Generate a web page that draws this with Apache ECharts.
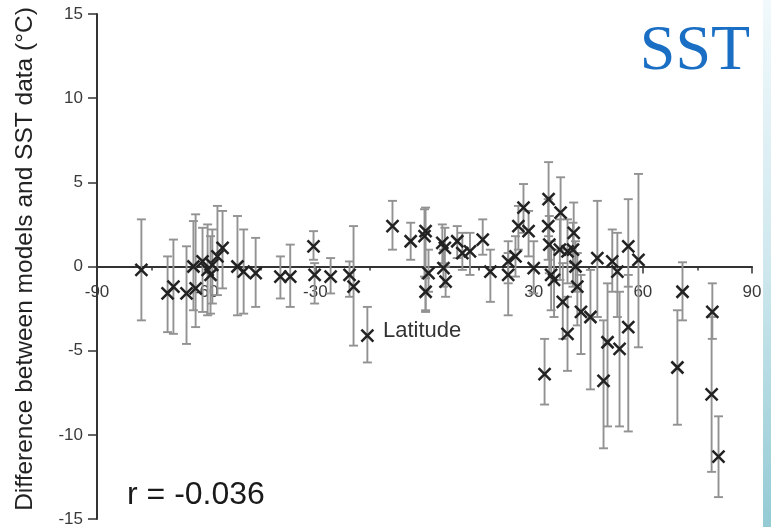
<!DOCTYPE html>
<html>
<head>
<meta charset="utf-8">
<script src="https://cdn.jsdelivr.net/npm/echarts@6/dist/echarts.min.js"></script>
<style>
html,body{margin:0;padding:0;background:#fff;}
#chart{width:771px;height:527px;}
</style>
</head>
<body>
<div id="chart"></div>
<script>
// Latitude (degrees) of each site
const latitude = [
  -77.8, -70.6, -69.0, -65.4, -62.9, -63.5, -61.0, -59.6, -58.3, -58.8,
  -56.9, -55.5, -51.4, -49.7, -46.4, -39.6, -36.9, -30.5, -30.2, -25.8,
  -20.6, -19.5, -15.7, -8.8, -3.8, 0.0, 0.3, 1.1, 0.3, 4.9,
  5.6, 5.2, 5.8, 9.0, 10.4, 12.5, 16.0, 18.1, 23.0, 23.0,
  25.0, 25.8, 27.2, 28.6, 30.0, 34.0, 34.1, 37.4, 34.3, 37.2,
  39.3, 40.8, 41.0, 34.8, 35.6, 38.0, 42.0, 39.3, 43.0, 45.6,
  47.5, 41.5, 33.0, 49.2, 50.3, 53.6, 56.0, 51.6, 53.0, 56.0,
  58.8, 70.9, 69.5, 79.1, 78.9, 80.8
];
// Difference between models and SST data (°C)
const difference = [
  -0.2, -1.6, -1.2, -1.6, -1.3, 0.0, 0.3, -0.2, 0.1, -0.5,
  0.6, 1.1, 0.0, -0.3, -0.4, -0.6, -0.6, 1.2, -0.5, -0.6,
  -0.5, -1.2, -4.1, 2.4, 1.5, 1.8, 2.1, -0.4, -1.5, 1.4,
  1.1, -0.1, -0.9, 1.5, 0.8, 0.9, 1.6, -0.3, 0.3, -0.5,
  0.6, 2.4, 3.5, 2.1, -0.1, 2.4, 4.0, 3.2, 1.3, 1.0,
  0.9, 1.0, 2.0, -0.5, -0.8, -2.1, -1.2, -4.0, -2.7, -3.0,
  0.5, 0.0, -6.4, -6.8, -4.5, -4.9, -3.6, 0.3, -0.3, 1.2,
  0.4, -1.5, -6.0, -2.7, -7.6, -11.3
];
// Upper end of each error bar (°C)
const errUpper = [
  2.8, 0.6, 1.6, 1.2, 3.1, 2.7, 2.3, 2.5, 2.2, 1.8,
  3.6, 3.3, 3.0, 2.2, 1.7, 0.6, 1.3, 2.1, 0.2, 0.5,
  0.3, 2.4, -2.4, 3.9, 2.6, 3.4, 3.5, 1.0, -0.7, 2.5,
  2.3, 1.0, 0.0, 2.4, 2.0, 2.0, 2.8, 1.0, 1.5, 0.8,
  1.8, 3.6, 4.9, 3.3, 1.5, 4.0, 6.2, 5.3, 3.0, 2.8,
  2.8, 2.6, 3.8, 1.5, 1.0, 0.2, 0.8, -1.8, -0.5, -0.2,
  3.9, 1.5, -4.3, -3.2, -1.0, -1.5, -0.5, 2.2, 2.0, 4.0,
  5.5, 0.25, -2.6, -1.0, -3.0, -8.9
];
// Lower end of each error bar (°C)
const errLower = [
  -3.2, -3.9, -4.0, -4.6, -3.6, -2.6, -2.7, -2.9, -2.2, -2.8,
  -1.7, -1.3, -2.9, -2.8, -2.4, -1.9, -2.4, 0.4, -2.2, -1.6,
  -1.8, -4.7, -5.7, 1.0, 0.4, -0.6, -2.6, -1.5, -2.7, 0.2,
  0.0, -1.2, -1.8, 0.5, -0.2, -0.5, 0.7, -2.1, -1.0, -2.9,
  -0.6, 1.0, 2.0, 0.6, -1.6, 0.4, 1.8, 1.0, -0.4, -0.8,
  -1.0, -1.2, 0.2, -2.6, -3.0, -4.3, -3.5, -6.2, -5.2, -7.3,
  -3.0, -1.5, -8.2, -10.8, -9.5, -9.5, -9.8, -1.5, -3.0, -1.2,
  -4.8, -3.2, -9.4, -4.3, -12.2, -13.7
];
const xTicks = [-90, -60, -30, 0, 30, 60, 90];
const yTicks = [-15, -10, -5, 0, 5, 10, 15];

const data = latitude.map((x, i) => [x, difference[i], errUpper[i], errLower[i]]);

const chart = echarts.init(document.getElementById('chart'), null, {renderer: 'canvas'});

const GRID_TOP = 14, GRID_BOTTOM = 8, H = 527;
const gridH = H - GRID_TOP - GRID_BOTTOM;
// distance of the zero line above the grid bottom (derived from the y range)
const zeroOffset = gridH * (0 - yTicks[0]) / (yTicks[yTicks.length - 1] - yTicks[0]);

const option = {
  backgroundColor: '#ffffff',
  animation: false,
  grid: {left: 97, right: 19, top: GRID_TOP, bottom: GRID_BOTTOM, containLabel: false, outerBoundsMode: 'none'},
  xAxis: {
    type: 'value',
    position: 'bottom',
    offset: -zeroOffset,
    min: xTicks[0],
    max: xTicks[xTicks.length - 1],
    interval: 30,
    axisLine: {show: true, onZero: false, lineStyle: {color: '#333', width: 2}},
    axisTick: {show: true, length: 7, lineStyle: {color: '#333', width: 1.5}},
    minorTick: {show: true, splitNumber: 2, length: 4, lineStyle: {color: '#333', width: 1.5}},
    axisLabel: {
      margin: 17,
      fontFamily: 'Liberation Sans, Arial, sans-serif',
      fontSize: 17,
      color: '#3a3a3a',
      formatter: v => (v === 0 ? '' : String(v))
    },
    splitLine: {show: false}
  },
  yAxis: {
    type: 'value',
    min: yTicks[0],
    max: yTicks[yTicks.length - 1],
    interval: 5,
    axisLine: {show: true, onZero: false, lineStyle: {color: '#333', width: 2}},
    axisTick: {show: true, length: 9, lineStyle: {color: '#333', width: 1.5}},
    axisLabel: {
      margin: 14,
      fontFamily: 'Liberation Sans, Arial, sans-serif',
      fontSize: 17,
      color: '#3a3a3a'
    },
    splitLine: {show: false}
  },
  graphic: [
    {
      type: 'rect', z: -10, silent: true,
      shape: {x: 763, y: 0, width: 8, height: 527},
      style: {
        fill: new echarts.graphic.LinearGradient(0, 0, 0, 1, [
          {offset: 0, color: '#f1f9fc'},
          {offset: 0.5, color: '#cfe8ee'},
          {offset: 1, color: '#93cad4'}
        ])
      }
    },
    {
      type: 'text', x: 25, y: 259, rotation: Math.PI / 2,
      style: {
        text: 'Difference between models and SST data (°C)',
        fontFamily: 'Liberation Sans, Arial, sans-serif',
        fontSize: 24.5, fill: '#222',
        textAlign: 'center', textVerticalAlign: 'middle'
      }
    },
    {
      type: 'text', x: 695, y: 52,
      style: {
        text: 'SST',
        fontFamily: 'Liberation Serif, Times New Roman, serif',
        fontSize: 64, fill: '#1a6fc4',
        textAlign: 'center', textVerticalAlign: 'middle'
      }
    },
    {
      type: 'text', x: 127, y: 495,
      style: {
        text: 'r = -0.036',
        fontFamily: 'Liberation Sans, Arial, sans-serif',
        fontSize: 32, fill: '#1a1a1a',
        textAlign: 'left', textVerticalAlign: 'middle'
      }
    },
    {
      type: 'text', x: 383, y: 331,
      style: {
        text: 'Latitude',
        fontFamily: 'Liberation Sans, Arial, sans-serif',
        fontSize: 22, fill: '#333',
        textAlign: 'left', textVerticalAlign: 'middle'
      }
    }
  ],
  series: [
    {
      type: 'custom',
      name: 'error',
      z: 2,
      clip: false,
      data: data,
      encode: {x: 0, y: [2, 3]},
      renderItem: function (params, api) {
        const x = api.value(0);
        const hi = api.coord([x, api.value(2)]);
        const lo = api.coord([x, api.value(3)]);
        const cw = 4.5;
        const st = {stroke: '#929292', lineWidth: 1.9};
        return {
          type: 'group',
          children: [
            {type: 'line', shape: {x1: hi[0], y1: hi[1], x2: lo[0], y2: lo[1]}, style: st},
            {type: 'line', shape: {x1: hi[0] - cw, y1: hi[1], x2: hi[0] + cw, y2: hi[1]}, style: st},
            {type: 'line', shape: {x1: lo[0] - cw, y1: lo[1], x2: lo[0] + cw, y2: lo[1]}, style: st}
          ]
        };
      }
    },
    {
      type: 'custom',
      name: 'points',
      z: 3,
      clip: false,
      data: data,
      encode: {x: 0, y: 1},
      renderItem: function (params, api) {
        const p = api.coord([api.value(0), api.value(1)]);
        const s = 6;
        const st = {stroke: '#222', lineWidth: 2.5};
        return {
          type: 'group',
          children: [
            {type: 'line', shape: {x1: p[0] - s, y1: p[1] - s, x2: p[0] + s, y2: p[1] + s}, style: st},
            {type: 'line', shape: {x1: p[0] - s, y1: p[1] + s, x2: p[0] + s, y2: p[1] - s}, style: st}
          ]
        };
      }
    }
  ]
};
chart.setOption(option);
</script>
</body>
</html>
